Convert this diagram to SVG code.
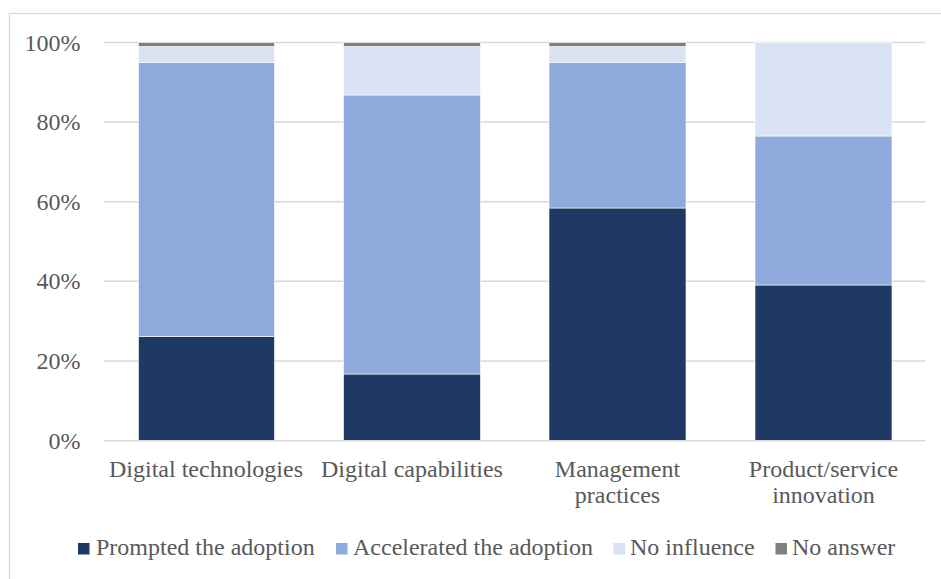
<svg xmlns="http://www.w3.org/2000/svg" width="941" height="579" viewBox="0 0 941 579">
<style>
.t{font-family:'Liberation Serif','Times New Roman',serif;font-size:24px;fill:#595959}
.grid{stroke:#d9d9d9;stroke-width:1.5}
.p{fill:#203864}.a{fill:#8faadc}.n{fill:#dae3f3}.x{fill:#7f7f7f}
.seg{stroke:#ffffff;stroke-width:0.6}
</style>
<rect x="0" y="0" width="941" height="579" fill="#ffffff"/>
<rect x="9.5" y="13.5" width="940" height="580" fill="none" stroke="#d9d9d9" stroke-width="1.3"/>
<g id="grid">
<line class="grid" x1="104" y1="42.5" x2="925.5" y2="42.5"/>
<line class="grid" x1="104" y1="122.1" x2="925.5" y2="122.1"/>
<line class="grid" x1="104" y1="201.7" x2="925.5" y2="201.7"/>
<line class="grid" x1="104" y1="281.3" x2="925.5" y2="281.3"/>
<line class="grid" x1="104" y1="360.9" x2="925.5" y2="360.9"/>
</g>
<g id="yaxis" text-anchor="end">
<text class="t" x="80.5" y="50.5">100%</text>
<text class="t" x="80.5" y="130">80%</text>
<text class="t" x="80.5" y="209.5">60%</text>
<text class="t" x="80.5" y="289">40%</text>
<text class="t" x="80.5" y="368.5">20%</text>
<text class="t" x="80.5" y="448.5">0%</text>
</g>
<g id="bar-digital-technologies" class="seg">
<rect class="p" x="138.5" y="336.5" width="136" height="104"/>
<rect class="a" x="138.5" y="62.7" width="136" height="273.8"/>
<rect class="n" x="138.5" y="46.5" width="136" height="16.2"/>
<rect class="x" x="138.5" y="42.5" width="136" height="4"/>
</g>
<g id="bar-digital-capabilities" class="seg">
<rect class="p" x="343.5" y="374" width="137" height="66.5"/>
<rect class="a" x="343.5" y="95" width="137" height="279"/>
<rect class="n" x="343.5" y="46.5" width="137" height="48.5"/>
<rect class="x" x="343.5" y="42.5" width="137" height="4"/>
</g>
<g id="bar-management-practices" class="seg">
<rect class="p" x="549" y="208" width="137" height="232.5"/>
<rect class="a" x="549" y="62.7" width="137" height="145.3"/>
<rect class="n" x="549" y="46.5" width="137" height="16.2"/>
<rect class="x" x="549" y="42.5" width="137" height="4"/>
</g>
<g id="bar-product-service-innovation" class="seg">
<rect class="p" x="755" y="285" width="137" height="155.5"/>
<rect class="a" x="755" y="136" width="137" height="149"/>
<rect class="n" x="755" y="42.5" width="137" height="93.5"/>
</g>
<line class="grid" x1="104" y1="440.8" x2="925.5" y2="440.8"/>
<g id="xaxis" text-anchor="middle">
<text class="t" x="206" y="477">Digital technologies</text>
<text class="t" x="412" y="477">Digital capabilities</text>
<text class="t" x="617.5" y="477">Management</text>
<text class="t" x="617.5" y="503">practices</text>
<text class="t" x="823.5" y="477">Product/service</text>
<text class="t" x="823.5" y="503">innovation</text>
</g>
<g id="legend">
<rect class="p" x="78" y="543" width="11.5" height="11.5"/>
<text class="t" x="96" y="555">Prompted the adoption</text>
<rect class="a" x="336" y="543" width="11.5" height="11.5"/>
<text class="t" x="353" y="555">Accelerated the adoption</text>
<rect class="n" x="613.5" y="543" width="11.5" height="11.5"/>
<text class="t" x="630" y="555">No influence</text>
<rect class="x" x="775.5" y="543" width="11.5" height="11.5"/>
<text class="t" x="792" y="555">No answer</text>
</g>
</svg>
